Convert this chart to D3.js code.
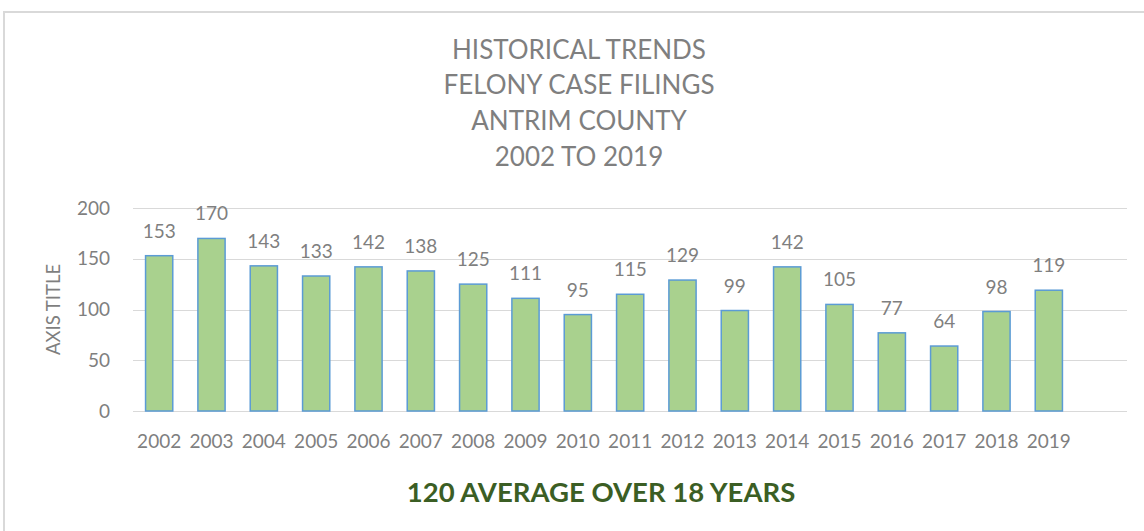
<!DOCTYPE html>
<html>
<head>
<meta charset="utf-8">
<script src="https://cdn.jsdelivr.net/npm/d3@7"></script>
<style>
  html, body { margin: 0; padding: 0; background: #fff; }
  svg { display: block; }
  text { font-family: Lato, "Open Sans", sans-serif; }
</style>
</head>
<body>
<svg id="chart" width="1144" height="531"></svg>
<script>
const years = ["2002","2003","2004","2005","2006","2007","2008","2009","2010","2011","2012","2013","2014","2015","2016","2017","2018","2019"];
const filings = [153,170,143,133,142,138,125,111,95,115,129,99,142,105,77,64,98,119];
const yTicks = [0,50,100,150,200];
const titleLines = ["HISTORICAL TRENDS","FELONY CASE FILINGS","ANTRIM COUNTY","2002 TO 2019"];
const axisTitle = "AXIS TITLE";
const footnote = "120 AVERAGE OVER 18 YEARS";

const svg = d3.select("#chart");
const W = 1144, H = 531;
const gray = "#7f7f7f";

// frame
svg.append("rect").attr("x", 4).attr("y", 12).attr("width", W + 10).attr("height", H + 10)
  .attr("fill", "#fff").attr("stroke", "#d9d9d9").attr("stroke-width", 2);

const x = d3.scaleBand().domain(years).range([133, 1075]).paddingInner(0.48).paddingOuter(0.24);
const y = d3.scaleLinear().domain([0, 200]).range([411, 208]);
const gridRight = 1127;

// gridlines
svg.append("g").selectAll("line").data(yTicks).join("line")
  .attr("x1", 133).attr("x2", gridRight)
  .attr("y1", d => Math.round(y(d)) + 0.5).attr("y2", d => Math.round(y(d)) + 0.5)
  .attr("stroke", "#d9d9d9").attr("stroke-width", 1);

// y axis labels
const yAxis = d3.axisLeft(y).tickValues(yTicks).tickSize(0).tickPadding(0);
const ya = svg.append("g").attr("transform", "translate(110,0)").call(yAxis);
ya.select(".domain").remove();
ya.selectAll("text").attr("fill", gray).style("font-size", "19px").style("font-family", "Lato, sans-serif");

// x axis labels
const xAxis = d3.axisBottom(x).tickSize(0).tickPadding(0);
const xa = svg.append("g").attr("transform", "translate(0,434)").call(xAxis);
xa.select(".domain").remove();
xa.selectAll("text").attr("fill", gray).style("font-size", "19px").style("font-family", "Lato, sans-serif");

// bars
svg.append("g").selectAll("rect").data(years).join("rect")
  .attr("x", d => x(d))
  .attr("y", (d, i) => y(filings[i]))
  .attr("width", x.bandwidth())
  .attr("height", (d, i) => y(0) - y(filings[i]))
  .attr("fill", "#a9d18e")
  .attr("stroke", "#5b9bd5").attr("stroke-width", 1.5);

// value labels
svg.append("g").selectAll("text").data(years).join("text")
  .attr("x", d => x(d) + x.bandwidth() / 2)
  .attr("y", (d, i) => y(filings[i]) - 18)
  .attr("text-anchor", "middle")
  .attr("fill", gray).style("font-size", "19px")
  .text((d, i) => filings[i]);

// axis title
svg.append("text")
  .attr("transform", "translate(60," + (y(0) + y(200)) / 2 + ") rotate(-90)")
  .attr("text-anchor", "middle")
  .attr("fill", gray).style("font-size", "18.5px")
  .text(axisTitle);

// title
svg.append("g").selectAll("text").data(titleLines).join("text")
  .attr("x", 579).attr("y", (d, i) => 58.5 + i * 35.8)
  .attr("text-anchor", "middle")
  .attr("fill", gray).style("font-size", "26px")
  .text(d => d);

// footnote
svg.append("text")
  .attr("x", 601).attr("y", 502)
  .attr("text-anchor", "middle")
  .attr("fill", "#3b5e24").style("font-size", "27.5px").style("font-weight", "bold")
  .text(footnote);
</script>
</body>
</html>
